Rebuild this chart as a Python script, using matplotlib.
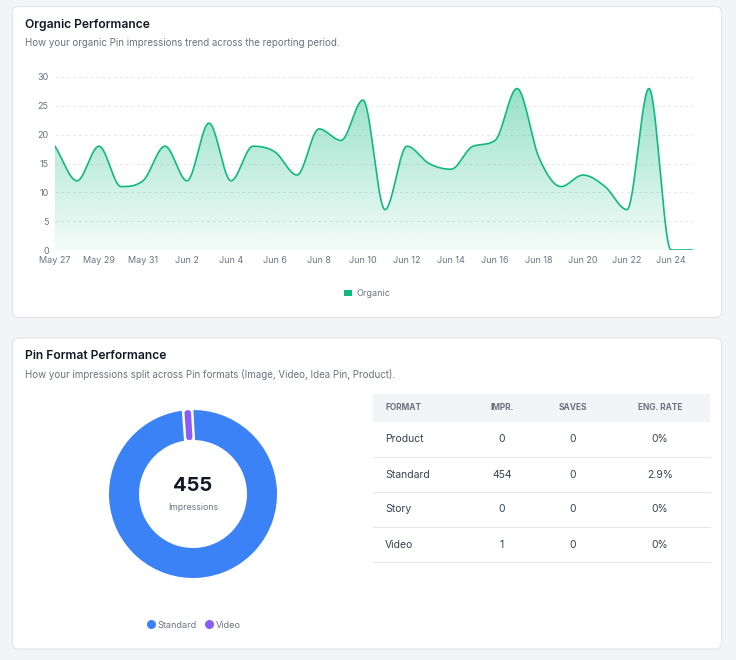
import numpy as np
import matplotlib
matplotlib.use("Agg")
import matplotlib.pyplot as plt
from matplotlib.patches import FancyBboxPatch, Rectangle, Patch, Wedge
from matplotlib.lines import Line2D

plt.rcParams['font.family'] = ['Inter', 'DejaVu Sans']

# ---------------- data ----------------
dates = ['May 27', 'May 28', 'May 29', 'May 30', 'May 31', 'Jun 1', 'Jun 2', 'Jun 3',
         'Jun 4', 'Jun 5', 'Jun 6', 'Jun 7', 'Jun 8', 'Jun 9', 'Jun 10', 'Jun 11',
         'Jun 12', 'Jun 13', 'Jun 14', 'Jun 15', 'Jun 16', 'Jun 17', 'Jun 18', 'Jun 19',
         'Jun 20', 'Jun 21', 'Jun 22', 'Jun 23', 'Jun 24', 'Jun 25']
organic = [18, 12, 18, 11, 12, 18, 12, 22, 12, 18, 17, 13, 21, 19, 26, 7,
           18, 15, 14, 18, 19, 28, 16, 11, 13, 11, 7, 28, 0, 0]
y_ticks = [0, 5, 10, 15, 20, 25, 30]

formats = ['Product', 'Standard', 'Story', 'Video']
impressions = [0, 454, 0, 1]
saves = [0, 0, 0, 0]
eng_rate = ['0%', '2.9%', '0%', '0%']
format_colors = {'Standard': '#3b82f6', 'Video': '#8b5cf6'}
table_headers = ['FORMAT', 'IMPR.', 'SAVES', 'ENG. RATE']

# ---------------- helpers ----------------
W, H = 736, 660
def fx(x): return x / W
def fy(y): return 1 - y / H

def monotone(xs, ys, n=30):
    xs = np.asarray(xs, float); ys = np.asarray(ys, float)
    d = np.diff(ys) / np.diff(xs)
    m = np.zeros(len(ys))
    m[0] = d[0]; m[-1] = d[-1]
    for i in range(1, len(ys) - 1):
        if np.sign(d[i - 1]) != np.sign(d[i]):
            m[i] = 0
        else:
            m[i] = (d[i - 1] + d[i]) / 2
    for i in range(len(d)):
        if abs(d[i]) < 1e-12:
            m[i] = m[i + 1] = 0
            continue
        a = m[i] / d[i]; b = m[i + 1] / d[i]
        s = a * a + b * b
        if s <= 9:
            continue
        t = 3 / np.sqrt(s)
        m[i] = a * t * d[i]; m[i + 1] = b * t * d[i]
    X, Y = [], []
    for i in range(len(d)):
        h = xs[i + 1] - xs[i]
        t = np.linspace(0, 1, n, endpoint=(i == len(d) - 1))
        h00 = 2 * t**3 - 3 * t**2 + 1; h10 = t**3 - 2 * t**2 + t
        h01 = -2 * t**3 + 3 * t**2; h11 = t**3 - t**2
        X.append(xs[i] + t * h)
        Y.append(h00 * ys[i] + h10 * h * m[i] + h01 * ys[i + 1] + h11 * h * m[i + 1])
    return np.concatenate(X), np.concatenate(Y)

TITLE = '#111827'
MUTED = '#6b7280'
BODY = '#374151'
GREEN = '#10b981'

fig = plt.figure(figsize=(W / 100, H / 100), dpi=100)
fig.patch.set_facecolor('#f3f4f8')
bg = fig.add_axes([0, 0, 1, 1])
bg.set_xlim(0, W); bg.set_ylim(H, 0); bg.axis('off')

for (x0, y0, w, h) in [(12.5, 6.5, 709, 311), (12.5, 338, 709, 311)]:
    bg.add_patch(FancyBboxPatch((x0, y0), w, h, boxstyle='round,pad=0,rounding_size=6',
                                fc='white', ec='#e2e4ea', lw=0.8))

bg.text(25, 25, 'Organic Performance', fontsize=8.7, fontweight='semibold', color=TITLE, va='center')
bg.text(25, 43.5, 'How your organic Pin impressions trend across the reporting period.',
        fontsize=7.0, color=MUTED, va='center')
bg.text(25, 356, 'Pin Format Performance', fontsize=8.7, fontweight='semibold', color=TITLE, va='center')
bg.text(25, 374.5, 'How your impressions split across Pin formats (Image, Video, Idea Pin, Product).',
        fontsize=7.0, color=MUTED, va='center')

# ---------------- line chart ----------------
ax = fig.add_axes([fx(55), fy(250), fx(693) - fx(55), fy(77) - fy(250)])
xi = np.arange(len(organic))
sx, sy = monotone(xi, organic)
poly = ax.fill_between(sx, sy, 0, color='none', lw=0)
grad = np.linspace(0.05, 0.46, 256).reshape(-1, 1)
rgba = np.zeros((256, 1, 4))
rgba[..., 0] = 16 / 255; rgba[..., 1] = 185 / 255; rgba[..., 2] = 129 / 255
rgba[..., 3] = grad
im = ax.imshow(rgba, extent=[0, len(organic) - 1, 0, 30], origin='lower', aspect='auto', zorder=1)
im.set_clip_path(poly.get_paths()[0], transform=ax.transData)
ax.plot(sx, sy, color=GREEN, lw=1.2, zorder=3, solid_capstyle='round')
ax.set_xlim(0, len(organic) - 1)
ax.set_ylim(0, 30)
ax.set_yticks(y_ticks)
ax.set_xticks(xi[::2])
ax.set_xticklabels(dates[::2])
for s in ax.spines.values():
    s.set_visible(False)
ax.tick_params(length=0, labelsize=6.5, colors=MUTED, pad=4.5)
ax.yaxis.grid(True, linestyle=(0, (3, 3)), color='#e5e7eb', lw=0.7)
ax.set_axisbelow(True)
ax.set_facecolor('none')

fig.legend(handles=[Patch(facecolor=GREEN, edgecolor='none', label='Organic')],
           loc='center', bbox_to_anchor=(fx(367), fy(294)), frameon=False,
           fontsize=6.5, labelcolor=MUTED, handlelength=0.9, handleheight=0.65,
           handletextpad=0.5)

# ---------------- donut ----------------
R_OUT, R_IN = 84, 54
half = 95
dax = fig.add_axes([fx(193 - half), fy(494 + half), 2 * half / W, 2 * half / H])
shown = [(f, v) for f, v in zip(formats, impressions) if v > 0]
vals = [v for _, v in shown]
cols = [format_colors[f] for f, _ in shown]
wedges, _ = dax.pie(vals, colors=cols, startangle=93.3, counterclock=False, radius=1,
                    wedgeprops=dict(width=(R_OUT - R_IN) / R_OUT, lw=0))
total = sum(impressions)
for wdg, v in zip(wedges, vals):
    if v / total < 0.01:
        hw = 2.7 / R_OUT
        halo = Wedge(wdg.center, wdg.r, wdg.theta1, wdg.theta2, width=wdg.width,
                     fc='white', ec='white', lw=(2 * 2.7 + 2 * 2.5) * 0.72, zorder=4)
        dax.add_patch(halo)
        wdg.set_radius(wdg.r - hw)
        wdg.set_width(wdg.width - 2 * hw)
        wdg.set_edgecolor(wdg.get_facecolor())
        wdg.set_linewidth(2 * 2.7 * 0.72)
        wdg.set_joinstyle('round')
        wdg.set_zorder(5)
dax.set_xlim(-half / R_OUT, half / R_OUT)
dax.set_ylim(-half / R_OUT, half / R_OUT)
dax.axis('off')
dax.text(0, 8 / R_OUT, f'{total}', ha='center', va='center', fontsize=14.5,
         fontweight='bold', color=TITLE)
dax.text(0, -13 / R_OUT, 'Impressions', ha='center', va='center', fontsize=6.3, color=MUTED)

fig.legend(handles=[Line2D([], [], marker='o', ls='', color=c, markersize=5.5, label=f)
                    for (f, _), c in zip(shown, cols)],
           loc='center', bbox_to_anchor=(fx(194), fy(625)), frameon=False, ncol=len(shown),
           fontsize=6.5, labelcolor=MUTED, handlelength=0.7, handletextpad=0.4,
           columnspacing=1.0)

# ---------------- table ----------------
tx0, tx1 = 373, 710
head_top, head_bot = 394, 422
row_h = 35
bg.add_patch(Rectangle((tx0, head_top), tx1 - tx0, head_bot - head_top, fc='#f3f4f7', ec='none'))
col_x = [385, 502, 573, 660]
col_ha = ['left', 'center', 'center', 'center']
for hx, ha, lab in zip(col_x, col_ha, table_headers):
    bg.text(hx, (head_top + head_bot) / 2, lab, ha=ha, va='center', fontsize=6.0,
            fontweight='bold', color=MUTED)
for i, (f, im_, sv, er) in enumerate(zip(formats, impressions, saves, eng_rate)):
    yc = head_bot + row_h * i + row_h / 2
    for hx, ha, val in zip(col_x, col_ha, [f, str(im_), str(sv), er]):
        bg.text(hx, yc, val, ha=ha, va='center', fontsize=7.5, color=BODY)
    bg.plot([tx0, tx1], [head_bot + row_h * (i + 1), head_bot + row_h * (i + 1)],
            color='#e5e7eb', lw=0.8)

fig.savefig('out.png', dpi=100, facecolor=fig.get_facecolor())
